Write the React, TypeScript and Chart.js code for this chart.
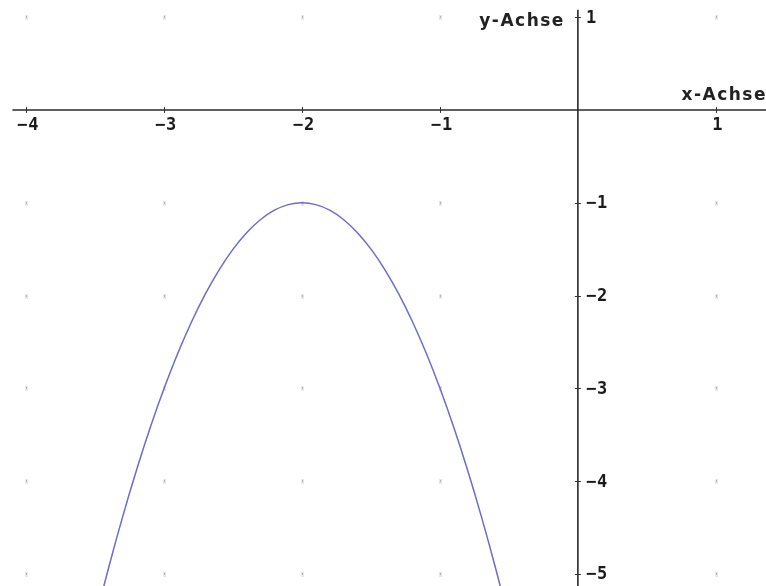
import React, { useEffect, useRef } from "react";
import { Chart, registerables } from "chart.js";

Chart.register(...registerables);

// Visible window of the coordinate plane
const X_MIN = -4.19;
const X_MAX = 1.364;
const Y_MIN = -5.13;
const Y_MAX = 1.185;

// Where the drawn axis lines begin
const X_AXIS_START = -4.1;
const Y_AXIS_TOP = 1.08;

// Integer ticks on each axis
const X_TICKS = [-4, -3, -2, -1, 1];
const Y_TICKS = [1, -1, -2, -3, -4, -5];

// Points along the parabola (vertex at (-2, -1))
const CURVE_X = [
  -3.5, -3.4, -3.3, -3.2, -3.1, -3.0, -2.9, -2.8, -2.7, -2.6, -2.5, -2.4, -2.3, -2.2, -2.1,
  -2.0, -1.9, -1.8, -1.7, -1.6, -1.5, -1.4, -1.3, -1.2, -1.1, -1.0, -0.9, -0.8, -0.7, -0.6, -0.5,
];
const CURVE_Y = [
  -5.5, -4.92, -4.38, -3.88, -3.42, -3.0, -2.62, -2.28, -1.98, -1.72, -1.5, -1.32, -1.18, -1.08, -1.02,
  -1.0, -1.02, -1.08, -1.18, -1.32, -1.5, -1.72, -1.98, -2.28, -2.62, -3.0, -3.42, -3.88, -4.38, -4.92, -5.5,
];

const X_TITLE = "x-Achse";
const Y_TITLE = "y-Achse";

const TICK_FONT = 'bold 17px "DejaVu Sans Mono", monospace';
const TITLE_FONT = 'bold 17px "DejaVu Sans", sans-serif';

// negative numbers are printed with a full-width minus sign
const fmt = (v: number) => (v < 0 ? "\u2212" + Math.abs(v) : String(v));

const axesPlugin = {
  id: "cartesianAxes",
  beforeDatasetsDraw(chart: any) {
    const { ctx, scales, chartArea } = chart;
    const xs = scales.x;
    const ys = scales.y;
    const x0 = xs.getPixelForValue(0);
    const y0 = ys.getPixelForValue(0);

    ctx.save();

    // faint grid dots at integer lattice points
    for (let gx = Math.ceil(X_MIN); gx <= Math.floor(X_MAX); gx++) {
      for (let gy = Math.ceil(Y_MIN); gy <= Math.floor(Y_MAX); gy++) {
        if (gx === 0 || gy === 0) continue;
        const px = Math.round(xs.getPixelForValue(gx));
        const py = Math.round(ys.getPixelForValue(gy));
        ctx.fillStyle = "rgba(215,215,215,0.6)";
        ctx.fillRect(px - 1, py - 2, 3, 5);
        ctx.fillStyle = "rgba(165,165,165,0.8)";
        ctx.fillRect(px, py - 1, 1, 2);
      }
    }

    // axis lines
    ctx.strokeStyle = "#2a2a2a";
    ctx.lineWidth = 1.6;
    ctx.beginPath();
    ctx.moveTo(xs.getPixelForValue(X_AXIS_START), y0);
    ctx.lineTo(chartArea.right, y0);
    ctx.moveTo(x0, ys.getPixelForValue(Y_AXIS_TOP));
    ctx.lineTo(x0, chartArea.bottom);
    ctx.stroke();

    // tick marks
    ctx.lineWidth = 1;
    ctx.strokeStyle = "#333";
    ctx.beginPath();
    X_TICKS.forEach((v) => {
      const px = Math.round(xs.getPixelForValue(v)) + 0.5;
      ctx.moveTo(px, y0 - 3);
      ctx.lineTo(px, y0 + 3);
    });
    Y_TICKS.forEach((v) => {
      const py = Math.round(ys.getPixelForValue(v)) + 0.5;
      ctx.moveTo(x0 - 3, py);
      ctx.lineTo(x0 + 3, py);
    });
    ctx.stroke();

    // tick labels
    ctx.font = TICK_FONT;
    (ctx as any).letterSpacing = "1px";
    ctx.fillStyle = "#1a1a1a";
    ctx.textAlign = "center";
    ctx.textBaseline = "top";
    X_TICKS.forEach((v) => {
      ctx.fillText(fmt(v), xs.getPixelForValue(v) + 2, y0 + 7);
    });
    ctx.textAlign = "left";
    ctx.textBaseline = "middle";
    Y_TICKS.forEach((v) => {
      ctx.fillText(fmt(v), x0 + 8, ys.getPixelForValue(v) + 1);
    });

    // axis titles
    ctx.font = TITLE_FONT;
    (ctx as any).letterSpacing = "1.5px";
    ctx.fillStyle = "#222";
    ctx.textAlign = "right";
    ctx.textBaseline = "alphabetic";
    ctx.fillText(Y_TITLE, x0 - 13, ys.getPixelForValue(1) + 9);
    ctx.fillText(X_TITLE, chartArea.right + 1, y0 - 10);

    ctx.restore();
  },
};

export default function App() {
  const canvasRef = useRef<HTMLCanvasElement | null>(null);

  useEffect(() => {
    const canvas = canvasRef.current;
    if (!canvas) return;
    const points = CURVE_X.map((x, i) => ({ x, y: CURVE_Y[i] }));
    const chart = new Chart(canvas, {
      type: "scatter",
      data: {
        datasets: [
          {
            data: points,
            showLine: true,
            borderColor: "rgb(108,108,204)",
            borderWidth: 1.5,
            pointRadius: 0,
            tension: 0.4,
            fill: false,
          },
        ],
      },
      options: {
        responsive: false,
        animation: false,
        layout: { padding: 0 },
        plugins: {
          legend: { display: false },
          tooltip: { enabled: false },
        },
        scales: {
          x: { type: "linear", min: X_MIN, max: X_MAX, display: false },
          y: { type: "linear", min: Y_MIN, max: Y_MAX, display: false },
        },
      },
      plugins: [axesPlugin],
    });
    return () => chart.destroy();
  }, []);

  return (
    <div style={{ position: "fixed", left: 0, top: 0, width: 766, height: 586, background: "#fff" }}>
      <canvas ref={canvasRef} width={766} height={586} style={{ display: "block" }} />
    </div>
  );
}
